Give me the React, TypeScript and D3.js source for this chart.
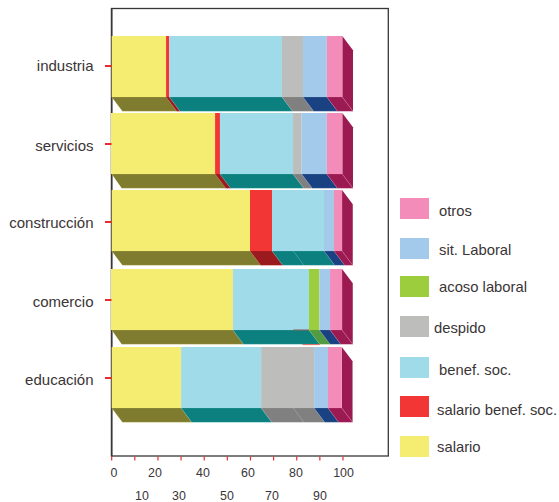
import React from "react";
import * as d3 from "d3";

const categories = ["industria", "servicios", "construcción", "comercio", "educación"];
const seriesNames = ["salario", "salario benef. soc.", "benef. soc.", "despido", "acoso laboral", "sit. Laboral", "otros"];
const salario = [23.5, 44.7, 59.8, 52.4, 30];
const salarioBenef = [1.4, 2.1, 9.5, 0, 0];
const benefSoc = [48.7, 31.6, 22.5, 32.9, 34.6];
const despido = [9.1, 3.7, 0, 0, 22.9];
const acoso = [0, 0, 0, 4.5, 0];
const sitLaboral = [10.3, 10.9, 4.3, 4.6, 6];
const otros = [6.7, 6.7, 3.5, 5.2, 6];
const allSeries = [salario, salarioBenef, benefSoc, despido, acoso, sitLaboral, otros];
const faceColors = ["#f5ec72", "#f23535", "#9fdbe8", "#bdbdbb", "#9ccd3c", "#a3caea", "#f48cba"];
const floorColors = ["#7f7c30", "#9a1a1e", "#0b807e", "#808080", "#539b42", "#1a4282", "#9c1a52"];
const sideColor = "#9c1a52";
const tickValues = [0, 10, 20, 30, 40, 50, 60, 70, 80, 90, 100];
const tickLower = [0, 20, 40, 60, 80, 100];
const tickLowerX = [114, 155, 203, 248, 296, 343.5];
const tickUpper = [10, 30, 50, 70, 90];
const tickUpperX = [142, 179, 227, 272, 320];
const legendOrder = ["otros", "sit. Laboral", "acoso laboral", "despido", "benef. soc.", "salario benef. soc.", "salario"];
const legendColors = ["#f48cba", "#a3caea", "#9ccd3c", "#bdbdbb", "#9fdbe8", "#f23535", "#f5ec72"];
const legendY = [198, 238, 276, 316, 357, 396, 436];
const legendBase = [215.5, 254.5, 292, 333, 374.5, 415, 452];
const legendTextX = [439, 439, 439, 434, 439, 437, 437];
const barTops = [36, 113, 190, 269, 347];
const barShift = [0, -0.7, 0, -0.7, 0];
const labelBase = [71, 151, 228, 307, 385];
const catTickY = [66, 144, 222, 300, 378];
const seamBars = [2, 4];
const seamVals = [78.5, 78.5];

const font = "'Liberation Sans', Arial, sans-serif";
const BAR_H = 61;
const DX = 10.7;
const DY = 14.3;

export default function App() {
  const x = d3.scaleLinear().domain([0, 100]).range([111.7, 343]);
  const stacks = categories.map((_, i) => {
    let acc = 0;
    return allSeries.map((s, k) => {
      const seg = { k, x0: x(acc) + (acc === 0 ? barShift[i] : 0), x1: x(acc + s[i]), v: s[i] };
      acc += s[i];
      return seg;
    }).filter((d) => d.v > 0);
  });
  const comercioBottom = barTops[3] + BAR_H;
  return (
    <svg width={559} height={502} style={{ position: "absolute", left: 0, top: 0 }}>
      <rect x={0} y={0} width={559} height={502} fill="#fff" />
      <rect x={111.5} y={8.5} width={276.8} height={447.5} fill="none" stroke="#3a3536" strokeWidth={1.3} />
      <line x1={111.7} x2={111.7} y1={8} y2={456.5} stroke="#3a3536" strokeWidth={1.6} />
      {categories.map((c, i) => {
        const top = barTops[i];
        const bottom = top + BAR_H;
        const segs = stacks[i];
        const last = segs[segs.length - 1];
        return (
          <g key={c}>
            {segs.map((s) => (
              <path
                key={s.k}
                d={`M${Math.max(s.x0, 111.7)},${bottom}L${s.x1},${bottom}L${s.x1 + DX},${bottom + DY}L${s.x0 + DX},${bottom + DY}Z`}
                fill={floorColors[s.k]}
                stroke={faceColors[s.k]}
                strokeOpacity={0.35}
                strokeWidth={0.5}
              />
            ))}
            <path
              d={`M${last.x1},${top}L${last.x1 + DX},${top + DY}L${last.x1 + DX},${bottom + DY}L${last.x1},${bottom}Z`}
              fill={sideColor}
            />
            <line x1={last.x1} y1={bottom} x2={last.x1 + DX} y2={bottom + DY} stroke="#f48cba" strokeOpacity={0.5} strokeWidth={0.5} />
            {segs.map((s) => (
              <rect key={s.k} x={s.x0} y={top} width={s.x1 - s.x0} height={BAR_H} fill={faceColors[s.k]} />
            ))}
            <line x1={105} x2={111.5} y1={catTickY[i]} y2={catTickY[i]} stroke="#ee2a2e" strokeWidth={2} />
            <text x={93.5} y={labelBase[i]} textAnchor="end" fontFamily={font} fontSize={15} fill="#3a3536">
              {c}
            </text>
          </g>
        );
      })}
      {seamBars.map((b, i) => {
        const bottom = barTops[b] + BAR_H;
        return (
          <line
            key={b}
            x1={x(seamVals[i])}
            y1={bottom}
            x2={x(seamVals[i]) + DX}
            y2={bottom + DY}
            stroke="#ffffff"
            strokeOpacity={0.35}
            strokeWidth={0.6}
          />
        );
      })}
      <line x1={x(78.5)} x2={x(85.3)} y1={comercioBottom} y2={comercioBottom} stroke="#8a5a50" strokeWidth={1} />
      <line x1={x(82.5)} x2={x(90)} y1={comercioBottom + DY + 0.3} y2={comercioBottom + DY + 0.3} stroke="#e0695f" strokeWidth={1} />
      {tickValues.map((t) => (
        <line key={t} x1={x(t)} x2={x(t)} y1={456.5} y2={460.5} stroke="#ee2a2e" strokeWidth={1.2} />
      ))}
      {tickLower.map((t, i) => (
        <text key={t} x={tickLowerX[i]} y={477} textAnchor="middle" fontFamily={font} fontSize={12.4} fill="#3a3536">
          {t}
        </text>
      ))}
      {tickUpper.map((t, i) => (
        <text key={t} x={tickUpperX[i]} y={500} textAnchor="middle" fontFamily={font} fontSize={12.4} fill="#3a3536">
          {t}
        </text>
      ))}
      {legendOrder.map((name, i) => (
        <g key={name}>
          <rect x={400} y={legendY[i]} width={29} height={21} fill={legendColors[i]} />
          <text x={legendTextX[i]} y={legendBase[i]} fontFamily={font} fontSize={14.8} fill="#3a3536">
            {name}
          </text>
        </g>
      ))}
    </svg>
  );
}
